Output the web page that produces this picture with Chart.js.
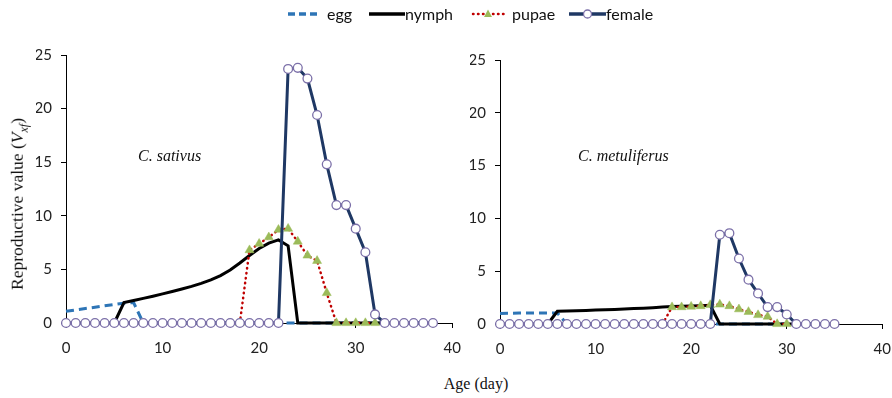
<!DOCTYPE html>
<html>
<head>
<meta charset="utf-8">
<title>Reproductive value</title>
<script src="https://cdn.jsdelivr.net/npm/chart.js"></script>
<style>
    html, body { margin: 0; padding: 0; background: #fff; overflow: hidden; }
    #wrap { position: relative; width: 892px; height: 398px; overflow: hidden; background: #fff; }
    canvas { position: absolute; top: 0; }
    #leftChart { left: 0; }
    #rightChart { left: 462px; }
    .leg-sym { position: absolute; top: 8px; }
    .leg-txt { position: absolute; top: 4px; font-family: Lato, sans-serif; font-size: 16px; color: #111; line-height: 20px; }
    .species { position: absolute; font-family: "Liberation Serif", serif; font-style: italic; font-size: 16px; color: #111; }
    #ytitle { position: absolute; left: 19px; top: 204px; transform: translate(-50%, -50%) rotate(-90deg);
              white-space: nowrap; font-family: "Liberation Serif", serif; font-size: 17.5px; color: #111; }
    #ytitle sub { font-size: 12px; }
    #xtitle { position: absolute; left: 476px; top: 384px; transform: translate(-50%, -50%);
              font-family: "Liberation Serif", serif; font-size: 16px; color: #111; white-space: nowrap; }
</style>
</head>
<body>
<div id="wrap">
    <canvas id="leftChart" width="472" height="370"></canvas>
    <canvas id="rightChart" width="440" height="370"></canvas>

    <!-- legend -->
    <svg class="leg-sym" style="left:287px" width="34" height="12"><line x1="1" y1="6" x2="33" y2="6" stroke="#2E75B6" stroke-width="3.5" stroke-dasharray="7,4"/></svg>
    <span class="leg-txt" style="left:327px">egg</span>
    <svg class="leg-sym" style="left:369px" width="36" height="12"><line x1="0" y1="6" x2="36" y2="6" stroke="#000" stroke-width="3.5"/></svg>
    <span class="leg-txt" style="left:405px">nymph</span>
    <svg class="leg-sym" style="left:471px" width="34" height="12"><line x1="2" y1="6" x2="33" y2="6" stroke="#C00000" stroke-width="2.5" stroke-linecap="round" stroke-dasharray="0.5,4.5"/><polygon points="17,1.5 21,9 13,9" fill="#9BBB59"/></svg>
    <span class="leg-txt" style="left:512px">pupae</span>
    <svg class="leg-sym" style="left:569px" width="37" height="12"><line x1="0" y1="6" x2="37" y2="6" stroke="#1F3864" stroke-width="3.5"/><circle cx="18.5" cy="6" r="4" fill="#fff" stroke="#7B6FA8" stroke-width="1.3"/></svg>
    <span class="leg-txt" style="left:606px">female</span>

    <div class="species" style="left:138px; top:147px">C. sativus</div>
    <div class="species" style="left:578px; top:147px">C. metuliferus</div>

    <div id="ytitle">Reproductive value (<i>V<sub>xf</sub></i>)</div>
    <div id="xtitle">Age (day)</div>
</div>

<script>
// Age in days for each panel
const daysSativus = [0, 1, 2, 3, 4, 5, 6, 7, 8, 9, 10, 11, 12, 13, 14, 15, 16, 17, 18, 19,
    20, 21, 22, 23, 24, 25, 26, 27, 28, 29, 30, 31, 32, 33, 34, 35, 36, 37, 38];
const daysMetuliferus = [0, 1, 2, 3, 4, 5, 6, 7, 8, 9, 10, 11, 12, 13, 14, 15, 16, 17, 18, 19,
    20, 21, 22, 23, 24, 25, 26, 27, 28, 29, 30, 31, 32, 33, 34, 35];

// C. sativus reproductive values (Vxj), one per day
const eggSativus = [1.1, 1.22, 1.35, 1.47, 1.6, 1.72, 1.85, 1.9, 0, 0, 0, 0, 0, 0, 0, 0, 0, 0, 0, 0,
    0, 0, 0, 0, 0, 0, 0, 0, 0, 0, 0, 0, 0, 0, 0, 0, 0, 0, 0];
const nymphSativus = [null, null, null, null, null, 0, 1.9, 2.1, 2.3, 2.5, 2.72, 2.94, 3.17, 3.42, 3.7, 4.02, 4.42, 4.95, 5.6, 6.3,
    6.95, 7.45, 7.75, 7.2, 0, 0, 0, 0, 0, 0, 0, 0, 0, 0, null, null, null, null, null];
const pupaeSativus = [null, null, null, null, null, null, null, null, null, null, null, null, null, null, null, null, null, null, 0, 6.8,
    7.4, 8.0, 8.7, 8.8, 7.6, 6.3, 5.8, 2.8, 0, 0, 0, 0, 0, null, null, null, null, null, null];
const femaleSativus = [0, 0, 0, 0, 0, 0, 0, 0, 0, 0, 0, 0, 0, 0, 0, 0, 0, 0, 0, 0,
    0, 0, 0, 23.7, 23.8, 22.8, 19.4, 14.8, 11.0, 11.0, 8.8, 6.6, 0.8, 0, 0, 0, 0, 0, 0];

// C. metuliferus reproductive values
const eggMetuliferus = [1.0, 1.02, 1.03, 1.04, 1.05, 1.05, 1.05, 0, 0, 0, 0, 0, 0, 0, 0, 0, 0, 0, 0, 0,
    0, 0, 0, 0, 0, 0, 0, 0, 0, 0, 0, 0, 0, 0, 0, 0];
const nymphMetuliferus = [null, null, null, null, null, 0, 1.2, 1.23, 1.26, 1.29, 1.32, 1.35, 1.38, 1.42, 1.46, 1.5, 1.54, 1.6, 1.65, 1.68,
    1.71, 1.74, 1.78, 0, 0, 0, 0, 0, 0, 0, 0, 0, null, null, null, null];
const pupaeMetuliferus = [null, null, null, null, null, null, null, null, null, null, null, null, null, null, null, null, null, 0, 1.6, 1.6,
    1.65, 1.7, 1.8, 1.85, 1.7, 1.4, 1.15, 0.85, 0.7, 0, 0, null, null, null, null, null];
const femaleMetuliferus = [0, 0, 0, 0, 0, 0, 0, 0, 0, 0, 0, 0, 0, 0, 0, 0, 0, 0, 0, 0,
    0, 0, 0, 8.45, 8.6, 6.2, 4.2, 2.9, 1.6, 1.6, 0.9, 0, 0, 0, 0, 0];

const xTicks = [0, 10, 20, 30, 40];
const yTicks = [0, 5, 10, 15, 20, 25];

const tickFont = { family: 'Lato, sans-serif', size: 15 };

function toPoints(days, values) {
    return days.map((d, i) => ({ x: d, y: values[i] }));
}

function buildDatasets(days, egg, nymph, pupae, female) {
    return [
        {
            label: 'egg',
            data: toPoints(days, egg),
            borderColor: '#2E75B6',
            borderWidth: 3,
            borderDash: [8, 5],
            pointRadius: 0,
            order: 4
        },
        {
            label: 'nymph',
            data: toPoints(days, nymph),
            borderColor: '#000',
            borderWidth: 3,
            pointRadius: 0,
            order: 3
        },
        {
            label: 'pupae',
            data: toPoints(days, pupae),
            borderColor: '#C00000',
            borderWidth: 2.5,
            borderDash: [0.5, 4.5],
            borderCapStyle: 'round',
            pointStyle: 'triangle',
            pointRadius: 5.2,
            pointBackgroundColor: '#9BBB59',
            pointBorderColor: '#9BBB59',
            pointBorderWidth: 0.5,
            order: 2
        },
        {
            label: 'female',
            data: toPoints(days, female),
            borderColor: '#1F3864',
            borderWidth: 3,
            pointStyle: 'circle',
            pointRadius: 4.4,
            pointBackgroundColor: '#fff',
            pointBorderColor: '#7B6FA8',
            pointBorderWidth: 1.3,
            order: 1
        }
    ];
}

function buildOptions(padding) {
    return {
        responsive: false,
        animation: false,
        clip: false,
        layout: { padding: padding },
        plugins: { legend: { display: false }, tooltip: { enabled: false } },
        elements: { line: { tension: 0, fill: false } },
        scales: {
            x: {
                type: 'linear',
                min: 0,
                max: 40,
                afterBuildTicks: (scale) => { scale.ticks = xTicks.map(v => ({ value: v })); },
                afterFit: (scale) => { scale.height = 30; },
                grid: { drawOnChartArea: false, drawTicks: true, tickLength: 5, color: '#000' },
                border: { display: true, color: '#000', width: 1 },
                ticks: { color: '#222', font: tickFont, padding: 11, maxRotation: 0 }
            },
            y: {
                type: 'linear',
                min: 0,
                max: 25,
                afterBuildTicks: (scale) => { scale.ticks = yTicks.map(v => ({ value: v })); },
                afterFit: (scale) => { scale.width = 30; },
                grid: { drawOnChartArea: false, drawTicks: true, tickLength: 5, color: '#000' },
                border: { display: true, color: '#000', width: 1 },
                ticks: { color: '#222', font: tickFont, padding: 9 }
            }
        }
    };
}

new Chart(document.getElementById('leftChart'), {
    type: 'line',
    data: { datasets: buildDatasets(daysSativus, eggSativus, nymphSativus, pupaeSativus, femaleSativus) },
    options: buildOptions({ left: 36, right: 19, top: 55, bottom: 17 })
});

new Chart(document.getElementById('rightChart'), {
    type: 'line',
    data: { datasets: buildDatasets(daysMetuliferus, eggMetuliferus, nymphMetuliferus, pupaeMetuliferus, femaleMetuliferus) },
    options: buildOptions({ left: 8, right: 15, top: 60, bottom: 16 })
});
</script>
</body>
</html>
